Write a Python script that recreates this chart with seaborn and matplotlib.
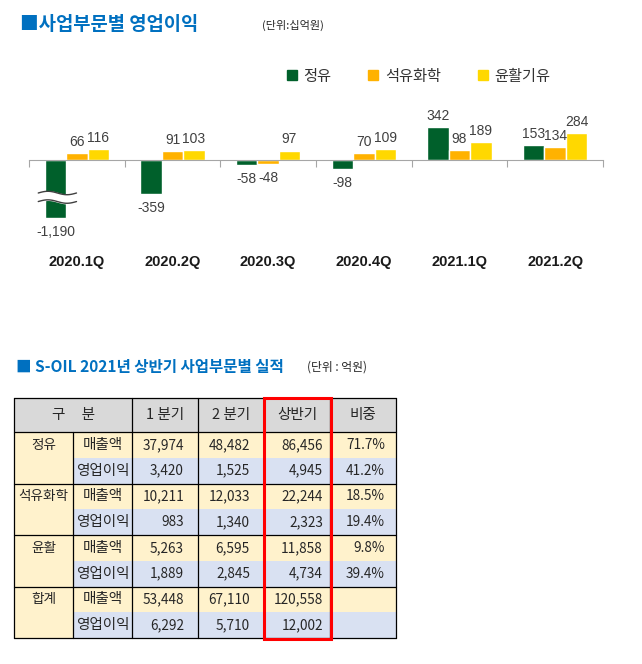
import numpy as np
import pandas as pd
import matplotlib
matplotlib.use('Agg')
import matplotlib.pyplot as plt
from matplotlib.patches import Rectangle
from matplotlib.lines import Line2D
import seaborn as sns

sns.set_style('white')
plt.rcParams['font.family'] = ['Liberation Sans', 'Noto Sans CJK KR', 'DejaVu Sans']
KR = ['Noto Sans CJK KR', 'DejaVu Sans']

# ---- 사업부문별 영업이익 (단위: 십억원)
quarters = ['2020.1Q', '2020.2Q', '2020.3Q', '2020.4Q', '2021.1Q', '2021.2Q']
segments = ['정유', '석유화학', '윤활기유']
refining = [-1190, -359, -58, -98, 342, 153]
petchem = [66, 91, -48, 70, 98, 134]
lube = [116, 103, 97, 109, 189, 284]
seg_colors = ['#00602B', '#FFB200', '#FFD800']

# ---- S-OIL 2021년 상반기 실적 (단위: 억원)
tbl_header = ['구     분', '1 분기', '2 분기', '상반기', '비중']
tbl_groups = ['정유', '석유화학', '윤활', '합계']
tbl_items = ['매출액', '영업이익']
q1 = [37974, 3420, 10211, 983, 5263, 1889, 53448, 6292]
q2 = [48482, 1525, 12033, 1340, 6595, 2845, 67110, 5710]
h1 = [86456, 4945, 22244, 2323, 11858, 4734, 120558, 12002]
share = [71.7, 41.2, 18.5, 19.4, 9.8, 39.4, None, None]

BREAK = -610            # 막대 생략 표시 아래 길이
BREAK_BAND = (-350, -440)

W, H = 642, 664
fig = plt.figure(figsize=(W / 100, H / 100), dpi=100)

# ==========================================================
# 1. 막대 그래프
# ==========================================================
ax = fig.add_axes([29 / W, 1 - 250 / H, 574 / W, 190 / H])

df = pd.DataFrame({
    'quarter': quarters * 3,
    'segment': np.repeat(segments, len(quarters)),
    'value': refining + petchem + lube,
})
df['shown'] = df['value'].clip(lower=BREAK)

sns.barplot(data=df, x='quarter', y='shown', hue='segment', order=quarters,
            hue_order=segments, palette=seg_colors, width=0.67, gap=0,
            saturation=1, legend=False, errorbar=None, ax=ax)

for cont, seg in zip(ax.containers, segments):
    vals = df.loc[df['segment'] == seg, 'value'].tolist()
    for bar, v in zip(cont, vals):
        x = bar.get_x() + bar.get_width() / 2
        end = bar.get_y() + bar.get_height()
        ax.annotate(f'{v:,}', (x, end), xytext=(0, 3 if v > 0 else -5),
                    textcoords='offset points', ha='center',
                    va='bottom' if v > 0 else 'top', fontsize=10, color='#404040')
        if v < BREAK:
            # 물결 모양 생략 표시
            t = np.linspace(x - 0.18, x + 0.22, 80)
            wave = 18 * np.sin((t - t[0]) / (t[-1] - t[0]) * 2 * np.pi)
            ax.fill_between(t, BREAK_BAND[0] + wave, BREAK_BAND[1] + wave,
                            color='white', zorder=5)
            for yb in BREAK_BAND:
                ax.plot(t, yb + wave, color='#404040', lw=1, zorder=6)

ax.set_xlim(-0.5, 5.5)
ax.set_ylim(-950, 1050)
ax.set_xticks(np.arange(-0.5, 6, 1))
ax.set_xticklabels([])
ax.set_yticks([])
ax.set_xlabel('')
ax.set_ylabel('')
for s in ['top', 'right', 'left']:
    ax.spines[s].set_visible(False)
ax.spines['bottom'].set_position(('data', 0))
ax.spines['bottom'].set_color('#A6A6A6')
ax.tick_params(axis='x', direction='out', length=5, color='#A6A6A6', bottom=True)
ax.patch.set_visible(False)

for i, q in enumerate(quarters):
    ax.text(i, -0.063, q, transform=ax.get_xaxis_transform(), ha='center',
            va='center', fontsize=10.5, fontweight='bold', color='#1a1a1a')

handles = [Line2D([], [], marker='s', ls='', color=c, markersize=7) for c in seg_colors]
fig.legend(handles, segments, loc='center left', bbox_to_anchor=(279 / W, 1 - 76 / H),
           ncol=3, frameon=False, handlelength=0.7, handletextpad=0.4,
           columnspacing=2.4, borderpad=0, labelcolor='#333333',
           prop={'family': KR, 'size': 11})

fig.text(20 / W, 1 - 25 / H, '■사업부문별 영업이익', family=KR, fontsize=13.5,
         fontweight='bold', color='#0070C0', va='center')
fig.text(262 / W, 1 - 25 / H, '(단위:십억원)', family=KR, fontsize=8, va='center')

# ==========================================================
# 2. 실적 표
# ==========================================================
fig.text(16 / W, 1 - 367 / H, '■ S-OIL 2021년 상반기 사업부문별 실적', family=KR,
         fontsize=11.2, fontweight='bold', color='#0070C0', va='center')
fig.text(307 / W, 1 - 367 / H, '(단위 : 억원)', family=KR, fontsize=8.5, va='center')

tx = fig.add_axes([0, 0, 1, 1])
tx.set_xlim(0, W)
tx.set_ylim(H, 0)
tx.axis('off')
tx.set_facecolor('none')

edges = [14, 73, 132, 198, 264, 330, 396]
top, head_h, row_h = 398, 34, 25.75
pads = [14, 14, 7, 11]
c_head, c_yel, c_blue = '#D9D9D9', '#FFF2CC', '#D9E1F2'
body_top = top + head_h
bottom = body_top + row_h * 8
fs_kr, fs_grp, fs_num = 10.5, 9.8, 9.8

tx.add_patch(Rectangle((edges[0], top), edges[-1] - edges[0], head_h, color=c_head, lw=0))
cols_vals = [q1, q2, h1, share]
for r in range(8):
    y0 = body_top + r * row_h
    bg = c_yel if r % 2 == 0 else c_blue
    tx.add_patch(Rectangle((edges[0], y0), edges[1] - edges[0], row_h, color=c_yel, lw=0))
    tx.add_patch(Rectangle((edges[1], y0), edges[-1] - edges[1], row_h, color=bg, lw=0))
    yc = y0 + row_h / 2
    if r % 2 == 0:
        tx.text((edges[0] + edges[1]) / 2, yc, tbl_groups[r // 2], family=KR,
                fontsize=fs_grp, ha='center', va='center')
    tx.text((edges[1] + edges[2]) / 2, yc, tbl_items[r % 2], family=KR,
            fontsize=fs_kr, ha='center', va='center')
    for c, vals in enumerate(cols_vals):
        v = vals[r]
        if v is None:
            continue
        s = f'{v:.1f}%' if c == 3 else f'{v:,}'
        tx.text(edges[c + 3] - pads[c], yc, s, family=KR, fontsize=fs_num,
                ha='right', va='center')

hy = top + head_h / 2
tx.text(edges[1], hy, tbl_header[0], family=KR, fontsize=fs_kr, ha='center', va='center')
for c in range(1, 5):
    tx.text((edges[c + 1] + edges[c + 2]) / 2, hy, tbl_header[c], family=KR,
            fontsize=fs_kr, ha='center', va='center')

lw = 0.9
for x in edges:
    y_start = body_top if x == edges[1] else top
    tx.plot([x, x], [y_start, bottom], color='black', lw=lw)
for y in [top, body_top] + [body_top + row_h * k for k in (2, 4, 6, 8)]:
    tx.plot([edges[0], edges[-1]], [y, y], color='black', lw=lw)
tx.add_patch(Rectangle((edges[4] - 0.5, top), edges[5] - edges[4] + 1, bottom - top + 1,
                       fill=False, edgecolor='#FF0000', lw=2.2, zorder=5))

fig.savefig('out.png', dpi=100)
